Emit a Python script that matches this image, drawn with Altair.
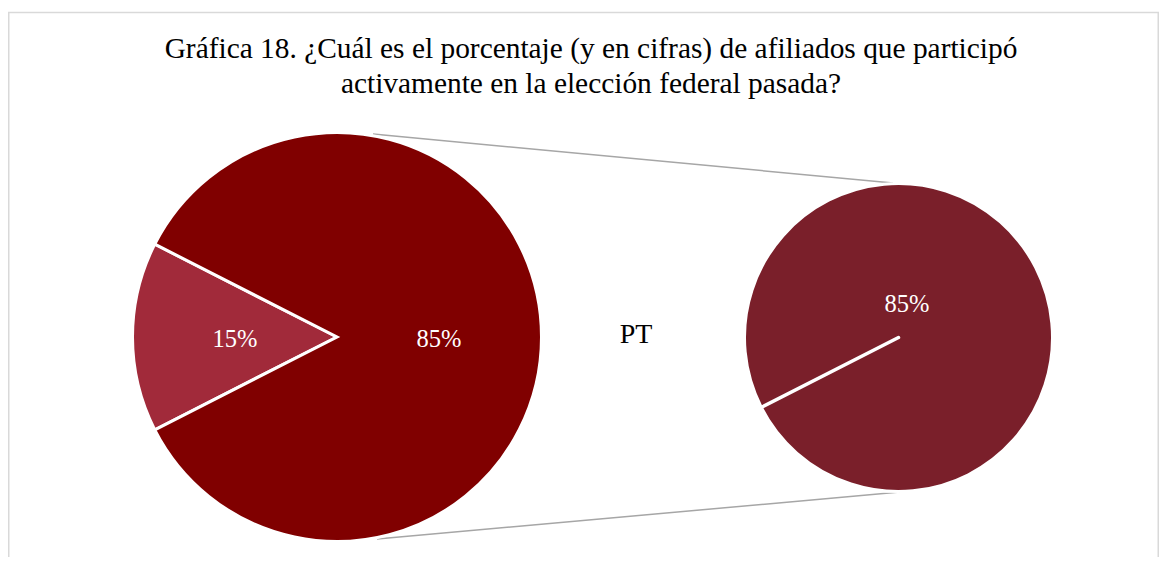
import math
import altair as alt
import pandas as pd

# ---- data ----
title_lines = [
    "Gráfica 18. ¿Cuál es el porcentaje (y en cifras) de afiliados que participó",
    "activamente en la elección federal pasada?",
]
left_labels = ["15%", "85%"]
left_values = [15, 85]
left_colors = ["#A12A3A", "#800000"]
right_labels = ["85%"]
right_values = [85]
right_colors = ["#7A1F2A"]
center_label = "PT"

# ---- layout (pixels inside the chart canvas) ----
W, H = 1151, 549
FONT = "Liberation Serif"
start_deg = 243
start = math.radians(start_deg)
L_CX, L_CY, L_R = 329, 329, 203
R_CX, R_CY, R_R = 890.5, 329.5, 152.5

left_df = pd.DataFrame({"label": left_labels, "value": left_values, "idx": [0, 1]})
right_df = pd.DataFrame({"label": right_labels, "value": right_values, "idx": [0]})
one = pd.DataFrame({"k": [0]})

theta_scale_l = alt.Scale(domain=[0, 100], range=[start, start + 2 * math.pi])
theta_scale_r = alt.Scale(domain=[0, 85], range=[start, start + 2 * math.pi])

border = alt.Chart(one).mark_rect(fill="transparent", stroke="#D9D9D9", strokeWidth=1.5).encode(
    x=alt.value(0.75), x2=alt.value(1150.25), y=alt.value(4.5), y2=alt.value(620)
)

title = alt.Chart(one).mark_text(
    font=FONT, fontSize=29.4, color="#000000", align="center", baseline="alphabetic", lineHeight=35
).encode(x=alt.value(583), y=alt.value(50), text=alt.value(title_lines))

connectors = alt.Chart(one).mark_rule(color="#A6A6A6", strokeWidth=1.5).encode(
    x=alt.value(365), y=alt.value(126), x2=alt.value(885), y2=alt.value(175)
) + alt.Chart(one).mark_rule(color="#A6A6A6", strokeWidth=1.5).encode(
    x=alt.value(369), y=alt.value(531), x2=alt.value(892), y2=alt.value(484)
)

left_pie = alt.Chart(left_df).mark_arc(
    outerRadius=L_R + 1.5, stroke="white", strokeWidth=3
).encode(
    theta=alt.Theta("value:Q", stack=True, scale=theta_scale_l),
    order=alt.Order("idx:Q"),
    color=alt.Color("label:N", scale=alt.Scale(domain=left_labels, range=left_colors), legend=None),
    x=alt.value(L_CX), y=alt.value(L_CY),
)

left_text = alt.Chart(left_df).mark_text(
    radius=102, font=FONT, fontSize=24.5, color="white", align="center", baseline="middle", dy=3
).encode(
    theta=alt.Theta("value:Q", stack=True, scale=theta_scale_l),
    order=alt.Order("idx:Q"),
    text="label:N",
    x=alt.value(L_CX), y=alt.value(L_CY),
)

right_pie = alt.Chart(right_df).mark_arc(
    outerRadius=R_R + 1.5, stroke="white", strokeWidth=3
).encode(
    theta=alt.Theta("value:Q", stack=True, scale=theta_scale_r),
    order=alt.Order("idx:Q"),
    color=alt.Color("label:N", scale=alt.Scale(domain=right_labels, range=right_colors), legend=None),
    x=alt.value(R_CX), y=alt.value(R_CY),
)

# white separator where the single slice of the second pie starts and ends
sep_x = R_CX + R_R * math.sin(start)
sep_y = R_CY - R_R * math.cos(start)
right_sep = alt.Chart(one).mark_rule(color="white", strokeWidth=3.5, strokeCap="round").encode(
    x=alt.value(R_CX), y=alt.value(R_CY), x2=alt.value(sep_x), y2=alt.value(sep_y)
)

right_text = alt.Chart(right_df).mark_text(
    font=FONT, fontSize=24.5, color="white", align="center", baseline="middle"
).encode(text="label:N", x=alt.value(899), y=alt.value(297))

pt_text = alt.Chart(one).mark_text(
    font=FONT, fontSize=28, color="#000000", align="center", baseline="middle"
).encode(text=alt.value(center_label), x=alt.value(628), y=alt.value(327))

chart = alt.layer(
    border, title, connectors, left_pie, left_text, right_pie, right_sep, right_text, pt_text
).resolve_scale(theta="independent", color="independent").properties(
    width=W, height=H, autosize=alt.AutoSizeParams(type="none"), padding=0
).configure_view(stroke=None)

chart.save("out.html", embed_options={"renderer": "svg", "actions": False})
